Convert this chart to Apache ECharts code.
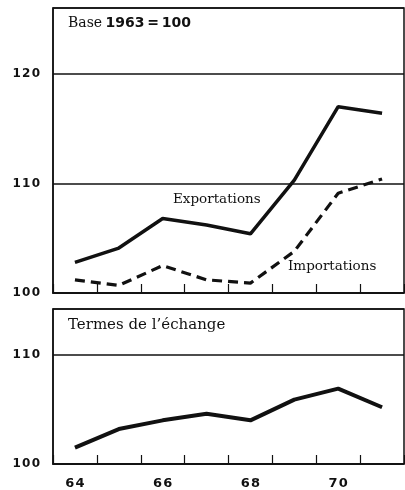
<!DOCTYPE html>
<html>
<head>
<meta charset="utf-8">
<script src="https://cdn.jsdelivr.net/npm/echarts@6/dist/echarts.min.js"></script>
<style>
  html, body { margin: 0; padding: 0; background: #fff; }
  #chart { width: 405px; height: 490px; }
</style>
</head>
<body>
<div id="chart"></div>
<script>
// years (1964-1971), indices base 1963 = 100
const years = ['64', '65', '66', '67', '68', '69', '70', '71'];
const exportations = [102.8, 104.1, 106.8, 106.2, 105.4, 110.3, 117.0, 116.4];
const importations = [101.2, 100.7, 102.5, 101.2, 100.9, 103.8, 109.1, 110.4];
const termes = [101.5, 103.2, 104.0, 104.6, 104.0, 105.9, 106.9, 105.2];

const INK = '#111';
const digitFont = 'DejaVu Sans';
const serifFont = 'DejaVu Serif';
const spaced = v => String(v).split('').join('\u200A');

const chart = echarts.init(document.getElementById('chart'), null, { renderer: 'canvas' });

const yAxisBase = {
    type: 'value', min: 100, interval: 10,
    axisLine: { show: true, lineStyle: { color: INK, width: 1.5 } },
    axisTick: { show: false },
    splitLine: { lineStyle: { color: INK, width: 1.5 } },
    axisLabel: {
        color: INK, fontFamily: digitFont, fontWeight: 'bold', fontSize: 12,
        margin: 13, showMaxLabel: false,
        formatter: v => v % 10 === 0 ? spaced(v) : ''
    }
};

const xAxisBase = {
    type: 'category', data: years, boundaryGap: true,
    axisLine: { show: true, lineStyle: { color: INK, width: 1.5 } },
    axisTick: { show: true, inside: true, length: 9, interval: 0, lineStyle: { color: INK, width: 1.2 } },
    splitLine: { show: false }
};

chart.setOption({
    backgroundColor: '#fff',
    animation: false,
    grid: [
        { left: 53, right: 1, top: 8, height: 285, show: true, borderColor: INK, borderWidth: 1.5 },
        { left: 53, right: 1, top: 309, height: 155, show: true, borderColor: INK, borderWidth: 1.5 }
    ],
    xAxis: [
        Object.assign({}, xAxisBase, { gridIndex: 0, axisLabel: { show: false } }),
        Object.assign({}, xAxisBase, {
            gridIndex: 1,
            axisLabel: {
                interval: 1, margin: 13, color: INK, fontFamily: digitFont,
                fontWeight: 'bold', fontSize: 13, formatter: v => spaced(v)
            }
        })
    ],
    yAxis: [
        Object.assign({}, yAxisBase, { gridIndex: 0, max: 126 }),
        Object.assign({}, yAxisBase, { gridIndex: 1, max: 114.2 })
    ],
    series: [
        {
            name: 'Exportations', type: 'line', xAxisIndex: 0, yAxisIndex: 0,
            data: exportations, symbol: 'none',
            lineStyle: { color: INK, width: 3.5 }
        },
        {
            name: 'Importations', type: 'line', xAxisIndex: 0, yAxisIndex: 0,
            data: importations, symbol: 'none',
            lineStyle: { color: INK, width: 3.2, type: [10, 6] }
        },
        {
            name: 'Termes de l\u2019échange', type: 'line', xAxisIndex: 1, yAxisIndex: 1,
            data: termes, symbol: 'none',
            lineStyle: { color: INK, width: 4 }
        }
    ],
    graphic: [
        {
            type: 'text', left: 18, top: -11,
            style: { text: 'Source : O.N.U.  \u2014  Bulletin statist.', fontFamily: serifFont, fontSize: 12, fill: INK }
        },
        {
            type: 'text', left: 68, top: 16,
            style: {
                text: '{a|Base} {b|1963\u2009=\u2009100}',
                rich: {
                    a: { fontFamily: serifFont, fontSize: 14, fill: INK },
                    b: { fontFamily: digitFont, fontSize: 14, fontWeight: 'bold', fill: INK }
                }
            }
        },
        {
            type: 'text', left: 173, top: 192,
            style: { text: 'Exportations', fontFamily: serifFont, fontSize: 13.5, fill: INK }
        },
        {
            type: 'text', left: 288, top: 259,
            style: { text: 'Importations', fontFamily: serifFont, fontSize: 13.5, fill: INK }
        },
        {
            type: 'text', left: 68, top: 318,
            style: { text: 'Termes de l\u2019échange', fontFamily: serifFont, fontSize: 15, fill: INK }
        }
    ]
});
</script>
</body>
</html>
